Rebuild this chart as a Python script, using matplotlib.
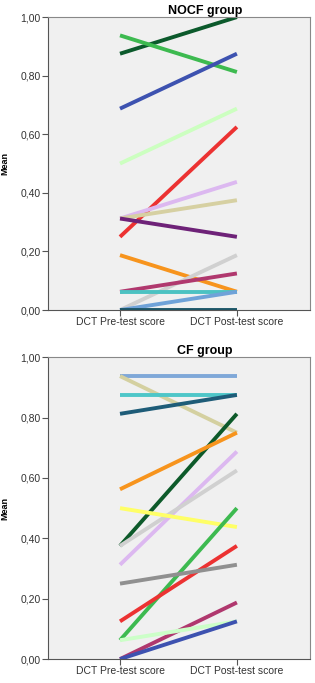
import matplotlib.pyplot as plt

plt.rcParams['font.family'] = ['Liberation Sans', 'DejaVu Sans']

x_labels = ['DCT Pre-test score', 'DCT Post-test score']
y_ticks = [0.0, 0.2, 0.4, 0.6, 0.8, 1.0]
y_ticklabels = ['0,00', '0,20', '0,40', '0,60', '0,80', '1,00']

# NOCF group: pre, post, colour
nocf_pre = [0.875, 0.9375, 0.6875, 0.50, 0.25, 0.3125, 0.3125, 0.3125, 0.1875, 0.0, 0.0625, 0.0625, 0.0, 0.0]
nocf_post = [1.00, 0.8125, 0.875, 0.6875, 0.625, 0.4375, 0.375, 0.25, 0.0625, 0.1875, 0.125, 0.0625, 0.0625, 0.0]
nocf_colors = ['#0c5a2c', '#3dba50', '#3d52b0', '#ccffc0', '#ec3232', '#dcb8f0',
               '#d6d0a2', '#6e2278', '#f7941d', '#d0d0d0', '#b0386e', '#4cc2c2',
               '#6fa2d8', '#1b5668']

# CF group
cf_pre = [0.9375, 0.9375, 0.875, 0.8125, 0.375, 0.5625, 0.3125, 0.375, 0.50, 0.0625, 0.125, 0.25, 0.0, 0.0625, 0.0]
cf_post = [0.9375, 0.75, 0.875, 0.875, 0.8125, 0.75, 0.6875, 0.625, 0.4375, 0.50, 0.375, 0.3125, 0.1875, 0.125, 0.125]
cf_colors = ['#7fa8d8', '#d4d0a0', '#4ec6c8', '#1e5c78', '#0d5a2a', '#f7941d',
             '#dcb8f0', '#d0d0d0', '#ffff66', '#3dba50', '#ec3232', '#909090',
             '#b0386e', '#ccffc8', '#3d52b0']

fig = plt.figure(figsize=(3.15, 6.83), dpi=100)
ax1 = fig.add_axes([0.152, 0.546, 0.832, 0.429])
ax2 = fig.add_axes([0.152, 0.035, 0.832, 0.442])


def draw(ax, pre, post, colors, title):
    ax.set_facecolor('#f0f0f0')
    for p, q, c in zip(pre, post, colors):
        ax.plot([0, 1], [p, q], color=c, lw=2.8, solid_capstyle='butt')
    ax.set_xlim(-0.617, 1.625)
    ax.set_ylim(0, 1)
    ax.set_xticks([0, 1])
    ax.set_xticklabels(x_labels, fontsize=7.5, color='#333333')
    ax.set_yticks(y_ticks)
    ax.set_yticklabels(y_ticklabels, fontsize=7.5, color='#333333')
    ax.tick_params(length=4, width=0.8, color='#555555', pad=1)
    for s in ['left', 'bottom']:
        ax.spines[s].set_color('#555555')
    for s in ['top', 'right']:
        ax.spines[s].set_color('#888888')
    ax.set_ylabel('Mean', fontsize=6.5, fontweight='bold')
    ax.yaxis.set_label_coords(-0.148, 0.5)
    ax.set_title(title, fontsize=9, fontweight='bold', x=0.6, pad=-4)


draw(ax1, nocf_pre, nocf_post, nocf_colors, 'NOCF group')
draw(ax2, cf_pre, cf_post, cf_colors, 'CF group')

fig.savefig('out.png', dpi=100)
